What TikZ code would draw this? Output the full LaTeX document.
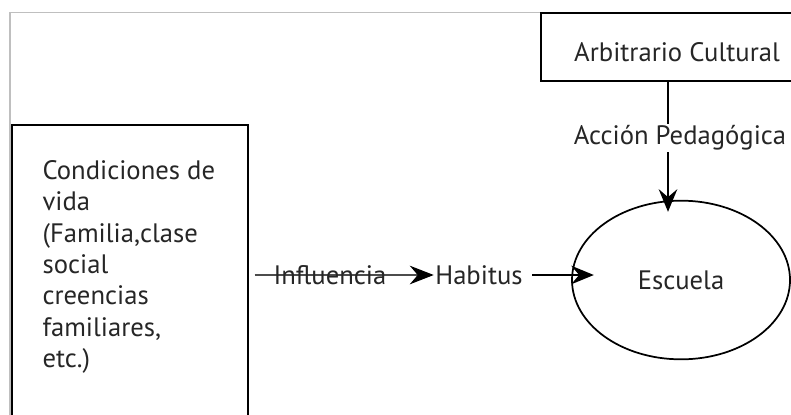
\documentclass[tikz,border=0pt]{standalone}
\usepackage{fontspec}
\setmainfont{PT Sans}
\usetikzlibrary{positioning,shapes.geometric,arrows.meta}

\begin{document}
\begin{tikzpicture}[x=0.75pt, y=-0.75pt,
	main/.style = {draw, line width=1.3pt, inner sep=0pt},
	lbl/.style = {inner sep=1pt, text=black!85},
	arr/.style = {line width=1.1pt, -{Stealth[length=17pt, width=14pt, inset=6pt]}},
	every node/.style = {font=\fontsize{20}{21}\selectfont}]
	\useasboundingbox (0,0) rectangle (791,414);
	\clip (0,0) rectangle (791,414);
	\draw[black!25, line width=0.8pt] (10,12.5) rectangle (900,500);

	%% Nodes
	\node[main, anchor=north west, minimum width=177pt, minimum height=240pt] (cond) at (11,124) {};
	\node[lbl, anchor=north west] (condtxt) at (41,159)
		{\parbox[t]{150pt}{\raggedright\fontsize{20}{23.5}\selectfont
		Condiciones de\\vida\\(Familia,clase\\social\\creencias\\familiares,\\etc.)}};

	\node[main, minimum width=204pt, minimum height=51pt] (arb) at (677,47) {};
	\node[lbl] at (677,52) {Arbitrario Cultural};
	\node[lbl] (ped) at (680,138) {Acción Pedagógica};

	\node[main, ellipse, minimum width=163.5pt, minimum height=119pt] (esc) at (681,280) {};
	\node[lbl] at (esc.center) {Escuela};

	\node[lbl] (hab) at (479,275) {Habitus};

	%% Edges
	\draw[line width=1.1pt] ([xshift=-6.75pt]arb.south) -- ([xshift=-9pt]ped.north);
	\draw[arr, shorten >=-9pt] ([xshift=-9pt]ped.south) -- ([xshift=-9.75pt]esc.north);
	\draw[arr, shorten >=-17pt] ([xshift=6pt]hab.east) -- (hab.east -| esc.west);
	\draw[line width=0.8pt, black!70, -{Stealth[length=18pt, width=14pt, inset=6pt, black]}]
		([xshift=4.5pt]cond.east |- hab.west) -- (hab.west)
		node[lbl, pos=0.42, text=black!85] {Influencia};
\end{tikzpicture}
\end{document}
